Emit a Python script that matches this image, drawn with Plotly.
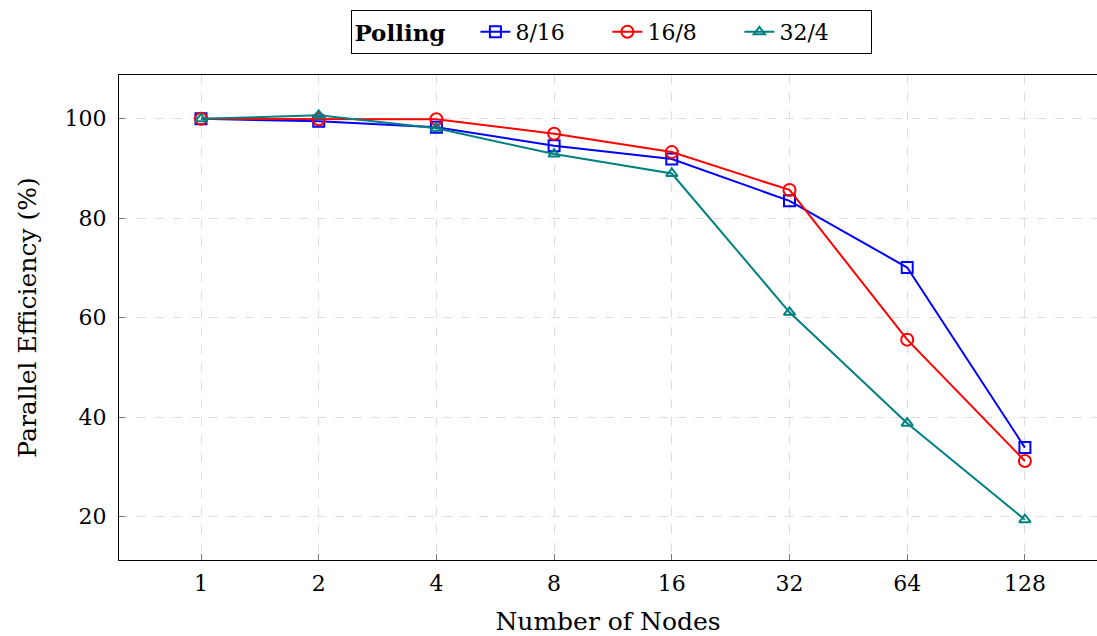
import plotly.graph_objects as go
import math

nodes = [1, 2, 4, 8, 16, 32, 64, 128]
eff_8_16 = [100.0, 99.5, 98.3, 94.6, 91.9, 83.5, 70.1, 33.9]
eff_16_8 = [100.0, 99.9, 99.9, 97.0, 93.3, 85.7, 55.6, 31.2]
eff_32_4 = [100.0, 100.7, 98.1, 92.9, 89.0, 61.1, 38.8, 19.4]

xpos = [math.log2(n) for n in nodes]
tick_text = [str(n) for n in nodes]

FONT = "DejaVu Serif"

fig = go.Figure()
series = [
    ("8/16", eff_8_16, "#0000ff", "square-open", 11),
    ("16/8", eff_16_8, "#ff0000", "circle-open", 12),
    ("32/4", eff_32_4, "#008080", "triangle-up-open", 10),
]
for name, vals, color, sym, size in series:
    fig.add_trace(go.Scatter(
        x=xpos, y=vals, name=name, mode="lines+markers",
        line=dict(color=color, width=2),
        marker=dict(symbol=sym, size=size, color=color, line=dict(color=color, width=2)),
    ))

fig.update_layout(
    width=1097, height=636,
    margin=dict(l=119, r=0, t=75, b=76),
    plot_bgcolor="white", paper_bgcolor="white",
    font=dict(family=FONT, size=22, color="black"),
    showlegend=True,
    legend=dict(
        orientation="h", x=0.504, xanchor="center", y=1.134, yanchor="top",
        bordercolor="black", borderwidth=1, bgcolor="white",
        title=dict(text="<b>Polling</b>   ", font=dict(family=FONT, size=23)),
        font=dict(family=FONT, size=22),
        entrywidth=87, entrywidthmode="pixels", tracegroupgap=0,
    ),
)
fig.update_xaxes(
    tickmode="array", tickvals=xpos, ticktext=tick_text,
    range=[-0.6967, 7.6126],
    showline=True, linecolor="black", linewidth=1, mirror=True,
    ticks="inside", ticklen=6, tickcolor="#777777",
    showgrid=True, gridcolor="#dddddd", griddash="dash", gridwidth=1,
    zeroline=False,
    tickfont=dict(family=FONT, size=22),
    ticklabelstandoff=4,
    title=dict(text="Number of Nodes", font=dict(family=FONT, size=25), standoff=22),
)
fig.update_yaxes(
    tickvals=[20, 40, 60, 80, 100],
    range=[11.3, 108.8],
    showline=True, linecolor="black", linewidth=1, mirror=False,
    ticks="inside", ticklen=6, tickcolor="#777777",
    showgrid=True, gridcolor="#dddddd", griddash="dash", gridwidth=1,
    zeroline=False,
    tickfont=dict(family=FONT, size=22),
    ticklabelstandoff=7,
    title=dict(text="Parallel Efficiency (%)", font=dict(family=FONT, size=25), standoff=20),
)

fig.write_html("out.html")
